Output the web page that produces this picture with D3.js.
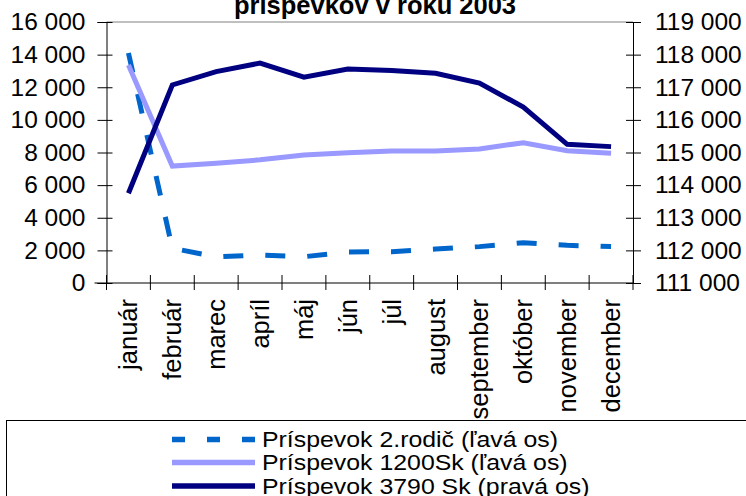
<!DOCTYPE html>
<html>
<head>
<meta charset="utf-8">
<script src="https://cdn.jsdelivr.net/npm/d3@7"></script>
<style>
  body { margin: 0; background: #fff; }
  svg { display: block; font-family: "Liberation Sans", Arial, sans-serif; }
</style>
</head>
<body>
<div id="chart"></div>
<script>
// data
const months = ["január", "február", "marec", "apríl", "máj", "jún", "júl",
  "august", "september", "október", "november", "december"];
const druhy_rodic = [14100, 2130, 1600, 1720, 1610, 1900, 1920, 2080, 2230, 2470, 2310, 2230];
const prisp_1200 = [13370, 7170, 7340, 7550, 7850, 7990, 8090, 8090, 8220, 8600, 8110, 7950];
const prisp_3790 = [113750, 117070, 117480, 117740, 117310, 117560, 117510, 117430, 117130, 116390, 115250, 115180];
const left_ticks = [0, 2000, 4000, 6000, 8000, 10000, 12000, 14000, 16000];
const right_ticks = [111000, 112000, 113000, 114000, 115000, 116000, 117000, 118000, 119000];
const title_text = "príspevkov v roku 2003";
const series_names = ["Príspevok 2.rodič (ľavá os)", "Príspevok 1200Sk (ľavá os)", "Príspevok 3790 Sk (pravá os)"];

const width = 746, height = 496;
const plot = { left: 106.5, right: 633, top: 22, bottom: 283 };

const fmt = d3.formatLocale({ decimal: ",", thousands: " ", grouping: [3], currency: ["", ""] }).format(",");

const svg = d3.select("#chart").append("svg")
  .attr("width", width)
  .attr("height", height);

svg.append("rect").attr("width", width).attr("height", height).attr("fill", "#fff");

const x = d3.scaleBand().domain(months).range([plot.left, plot.right]);
const y_left = d3.scaleLinear().domain([0, 16000]).range([plot.bottom, plot.top]);
const y_right = d3.scaleLinear().domain([111000, 119000]).range([plot.bottom, plot.top]);
const cx = (m) => x(m) + x.bandwidth() / 2;

// title (top line is cut off in the original)
svg.append("text")
  .attr("x", 375)
  .attr("y", 13.5)
  .attr("text-anchor", "middle")
  .attr("font-size", 25.5)
  .attr("font-weight", "bold")
  .text(title_text);

// plot area top border
svg.append("line")
  .attr("x1", plot.left).attr("x2", plot.right)
  .attr("y1", plot.top).attr("y2", plot.top)
  .attr("stroke", "#808080").attr("stroke-width", 1);

// left axis
const gl = svg.append("g")
  .attr("transform", `translate(${plot.left},0)`)
  .call(d3.axisLeft(y_left).tickValues(left_ticks).tickFormat(fmt).tickSizeOuter(0).tickSize(9).tickPadding(12));
gl.select(".domain").attr("stroke", "#000");
gl.selectAll(".tick line").attr("x2", -9).attr("x1", 6).attr("stroke", "#000");
gl.selectAll(".tick text").attr("font-size", 24.5).attr("font-family", null).attr("fill", "#000");

// right axis
const gr = svg.append("g")
  .attr("transform", `translate(${plot.right},0)`)
  .call(d3.axisRight(y_right).tickValues(right_ticks).tickFormat(fmt).tickSizeOuter(0).tickSize(8).tickPadding(14));
gr.select(".domain").attr("stroke", "#000");
gr.selectAll(".tick line").attr("x1", -7).attr("x2", 8).attr("stroke", "#000");
gr.selectAll(".tick text").attr("font-size", 24.5).attr("font-family", null).attr("fill", "#000");

// bottom axis: labels from the band scale, ticks on band edges
const gb = svg.append("g")
  .attr("transform", `translate(0,${plot.bottom})`)
  .call(d3.axisBottom(x).tickSize(0));
gb.select(".domain").remove();
gb.selectAll(".tick text")
  .attr("font-size", 25.5)
  .attr("font-family", null)
  .attr("fill", "#000")
  .attr("text-anchor", "end")
  .attr("transform", "rotate(-90)")
  .attr("x", -16)
  .attr("y", 0)
  .attr("dy", "0.35em");

svg.append("line")
  .attr("x1", plot.left - 12).attr("x2", plot.right)
  .attr("y1", plot.bottom).attr("y2", plot.bottom)
  .attr("stroke", "#000");

const edges = months.map((m) => x(m)).concat([plot.right]);
svg.append("g").selectAll("line")
  .data(edges)
  .join("line")
  .attr("x1", (d) => d).attr("x2", (d) => d)
  .attr("y1", plot.bottom - 8).attr("y2", plot.bottom + 7)
  .attr("stroke", "#000");

// series
const line_left = d3.line().x((d, i) => cx(months[i])).y((d) => y_left(d));
const line_right = d3.line().x((d, i) => cx(months[i])).y((d) => y_right(d));

svg.append("path")
  .datum(druhy_rodic)
  .attr("fill", "none")
  .attr("stroke", "#0066cc")
  .attr("stroke-width", 5)
  .attr("stroke-dasharray", "20,22")
  .attr("d", line_left);

svg.append("path")
  .datum(prisp_1200)
  .attr("fill", "none")
  .attr("stroke", "#9999ff")
  .attr("stroke-width", 5)
  .attr("d", line_left);

svg.append("path")
  .datum(prisp_3790)
  .attr("fill", "none")
  .attr("stroke", "#000080")
  .attr("stroke-width", 5)
  .attr("d", line_right);

// legend
const legend = svg.append("g");
legend.append("rect")
  .attr("x", 6.5).attr("y", 420.5)
  .attr("width", 800).attr("height", 120)
  .attr("fill", "#fff")
  .attr("stroke", "#000");

const legend_styles = [
  { color: "#0066cc", dash: "13,22" },
  { color: "#9999ff", dash: null },
  { color: "#000080", dash: null },
];
const legend_y = [439.5, 462.5, 486];

series_names.forEach((name, i) => {
  legend.append("line")
    .attr("x1", 172).attr("x2", 255)
    .attr("y1", legend_y[i]).attr("y2", legend_y[i])
    .attr("stroke", legend_styles[i].color)
    .attr("stroke-width", 5.5)
    .attr("stroke-dasharray", legend_styles[i].dash);
  // legend text is a bit wider than plain Arial in the original
  legend.append("text")
    .attr("transform", `translate(262,${legend_y[i] + 7.5}) scale(1.13,1)`)
    .attr("font-size", 22)
    .text(name);
});
</script>
</body>
</html>
